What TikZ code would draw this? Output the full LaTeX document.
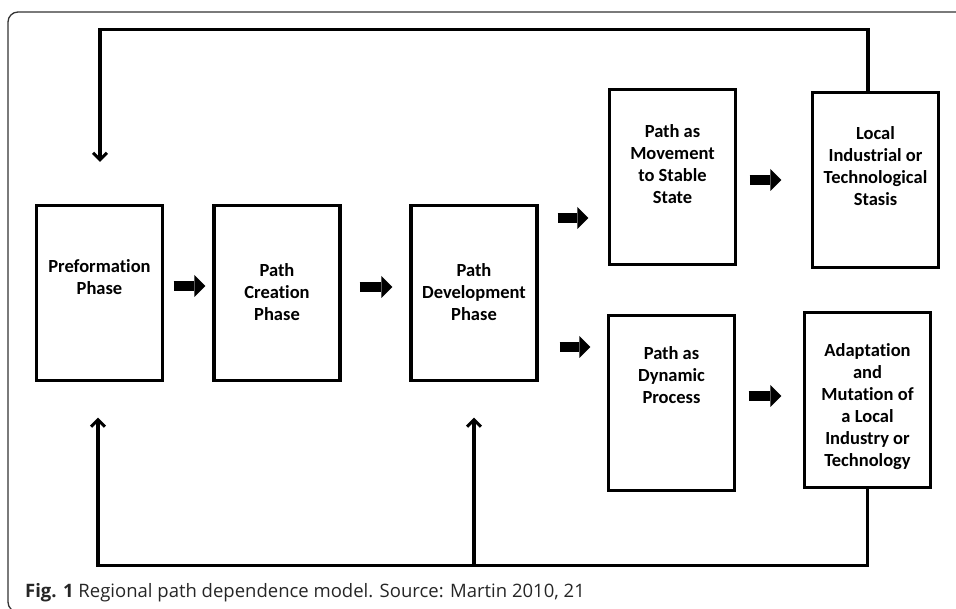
\documentclass[tikz,border=0pt]{standalone}
\usepackage{fontspec}
\setmainfont{Carlito}[Ligatures=NoCommon]
\newfontfamily\capfont{Open Sans}
\usetikzlibrary{arrows.meta,calc}
\begin{document}
\begin{tikzpicture}[x=1pt,y=-1pt,
  box/.style={draw, line width=3.1pt, minimum width=126pt, minimum height=175pt, inner sep=0pt},
  lbl/.style={font=\fontsize{18.5}{22}\selectfont\bfseries, align=center, inner sep=0pt},
  blk/.style={line width=10pt, -{Triangle[length=11pt,width=22pt,line width=0pt]}},
  fb/.style={line width=3.1pt},
  fbtip/.style={-{Straight Barb[length=7pt,width=14pt]}}
]
\useasboundingbox (0,0) rectangle (956,609);
% frame
\draw[black!80, line width=1.3pt, rounded corners=10pt] (970,12) -- (8,12) -- (8,612) -- (970,612);

% boxes
\node[box] (pre) at (99.5,293) {};
\node[box] (cre) at (277,293) {};
\node[box] (dev) at (474,293) {};
\node[box] (mov) at (672.5,177) {};
\node[box] (loc) at (875.5,180) {};
\node[box] (dyn) at (671.5,403) {};
\node[box] (adp) at (867.5,400) {};

% texts
\node[lbl] (pre-t) at ($(pre)+(0,-16)$) {Preformation\\Phase};
\node[lbl] (cre-t) at ($(cre)+(0,-1)$) {Path\\Creation\\Phase};
\node[lbl] (dev-t) at ($(dev)+(0,-1)$) {Path\\Development\\Phase};
\node[lbl] (mov-t) at ($(mov)+(0,-13)$) {Path as\\Movement\\to Stable\\State};
\node[lbl] (loc-t) at ($(loc)+(0,-14)$) {Local\\Industrial or\\Technological\\Stasis};
\node[lbl] (dyn-t) at ($(dyn)+(0,-28)$) {Path as\\Dynamic\\Process};
\node[lbl] (adp-t) at ($(adp)+(0,7)$) {Adaptation\\and\\Mutation of\\a Local\\Industry or\\Technology};

% block arrows
\coordinate (t1) at ($(pre.east)+(9.5,-7)$);
\draw[blk] (t1) -- ($(t1 -| cre.west)+(-7,0)$);
\coordinate (t2) at ($(cre.east)+(18,-6)$);
\draw[blk] (t2) -- ($(t2 -| dev.west)+(-17,0)$);
\coordinate (t3) at ($(dev.east)+(19,-75)$);
\draw[blk] (t3) -- ($(t3 -| mov.west)+(-19.5,0)$);
\coordinate (t4) at ($(dev.east)+(21,54)$);
\draw[blk] (t4) -- ($(t4 -| dyn.west)+(-16.5,0)$);
\coordinate (t5) at ($(mov.east)+(12.5,3)$);
\draw[blk] (t5) -- ($(t5 -| loc.west)+(-29.5,0)$);
\coordinate (t6) at ($(dyn.east)+(12.5,-7)$);
\draw[blk] (t6) -- ($(t6 -| adp.west)+(-21.5,0)$);

% feedback loops
\coordinate (tl) at ($(pre.north)+(0.5,-174)$);
\draw[fb, fbtip] ($(loc.north)+(-7.5,0)$) |- (tl) -- ($(pre.north)+(0.5,-42)$);
\coordinate (bl) at ($(pre.south)+(-1.5,183.5)$);
\draw[fb, fbtip] (adp.south) |- (bl) -- ($(pre.south)+(-1.5,35.5)$);
\draw[fb, fbtip] (dev.south |- bl) -- ($(dev.south)+(0,35.5)$);

% caption
\node[anchor=base west, inner sep=0pt, font=\capfont\fontsize{18.5}{22}\selectfont, text=black!85] (cap) at (25,597)
  {\textbf{Fig. 1} Regional path dependence model. Source: Martin 2010, 21};
\end{tikzpicture}
\end{document}
